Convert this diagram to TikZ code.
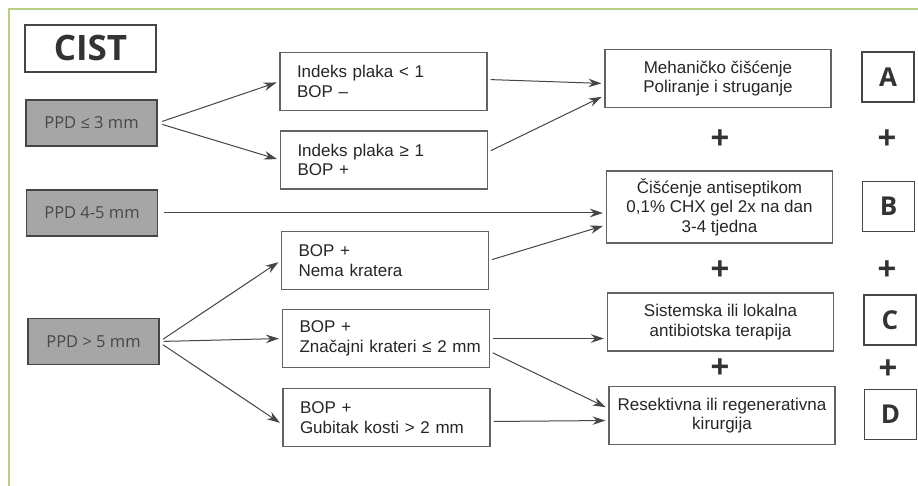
\documentclass[tikz,border=0pt]{standalone}
\usepackage{fontspec}
\setmainfont{Liberation Sans}
\newfontfamily\opensans{Open Sans}
\usetikzlibrary{arrows.meta,calc}
\definecolor{ppdgray}{RGB}{166,166,166}
\definecolor{framegreen}{RGB}{184,206,128}
\definecolor{inkgray}{RGB}{70,70,70}

\begin{document}
\begin{tikzpicture}[x=1pt,y=-1pt,>={Stealth[length=13pt,width=8.5pt]},
    box/.style={draw=inkgray!85,line width=1.1pt,inner sep=0pt,font=\fontsize{17}{19.5}\selectfont,text=black!85},
    ppd/.style={draw=inkgray,fill=ppdgray,line width=1.1pt,minimum width=131pt,minimum height=46pt,inner sep=0pt,font=\opensans\fontsize{16.5}{19}\selectfont,text=black!72},
    cond/.style={box,text width=173pt,inner xsep=17pt,minimum height=58pt,align=left},
    therapy/.style={box,minimum width=226pt,minimum height=58pt,align=center},
    letter/.style={draw=inkgray,line width=1.1pt,minimum width=52pt,minimum height=50pt,inner sep=0pt,font=\opensans\bfseries\fontsize{26}{30}\selectfont,text=black!80},
    plus/.style={font=\bfseries\fontsize{32}{32}\selectfont,text=black!80,inner sep=0pt},
    arr/.style={->,draw=inkgray,line width=1pt,shorten >=3pt}]
    \useasboundingbox (0,0) rectangle (918,486);
    \fill[white] (0,0) rectangle (918,486);
    \draw[framegreen,line width=1.5pt] (9,486)--(9,9)--(918,9);

    \node[draw=inkgray,line width=1.1pt,minimum width=131pt,minimum height=47pt,inner sep=0pt,font=\opensans\bfseries\fontsize{35}{40}\selectfont,text=black!80] (cist) at (90.5,48.5) {CIST};
    \node[ppd] (ppd1) at (91.5,123) {PPD ≤ 3 mm};
    \node[ppd] (ppd2) at (92,213) {PPD 4-5 mm};
    \node[ppd] (ppd3) at (93.5,341.5) {PPD > 5 mm};

    \node[cond] (ip1) at (383.5,81.5) {Indeks plaka < 1\\BOP –};
    \node[cond] (ip2) at (384,160) {Indeks plaka ≥ 1\\BOP +};
    \node[cond] (nk) at (385,260.5) {BOP +\\Nema kratera};
    \node[cond] (zk) at (386,338.5) {BOP +\\\mbox{Značajni krateri ≤ 2 mm}};
    \node[cond] (gk) at (386.5,417.5) {BOP +\\\mbox{Gubitak kosti > 2 mm}};

    \node[therapy] (meh) at (718,78.5) {Mehaničko čišćenje\\Poliranje i struganje};
    \node[therapy,minimum height=72pt] (anti) at (719.5,207) {Čišćenje antiseptikom\\0,1\% CHX gel 2x na dan\\3-4 tjedna};
    \node[therapy] (sys) at (720.5,322) {Sistemska ili lokalna\\antibiotska terapija};
    \node[therapy] (res) at (722,415.5) {Resektivna ili regenerativna\\kirurgija};

    \node[letter] (la) at (888,77) {A};
    \node[letter] (lb) at (888.5,206.5) {B};
    \node[letter] (lc) at (890,320) {C};
    \node[letter] (ld) at (890.5,414.5) {D};

    \node[plus] (p1) at (720,139) {+};
    \node[plus] (p2) at (720,270) {+};
    \node[plus] (p3) at (720,368) {+};
    \node[plus] (q1) at (887,139) {+};
    \node[plus] (q2) at (887,270) {+};
    \node[plus] (q3) at (888,369) {+};

    \draw[arr,shorten <=5pt] (ppd1.east)--(ip1.west);
    \draw[arr,shorten <=5pt] (ppd1.east)--(ip2.west);
    \draw[arr,shorten <=6pt] (ppd2.east)--(ppd2.east -| anti.west);
    \draw[arr,shorten <=4pt] (ppd3.east)--(nk.west);
    \draw[arr,shorten <=4pt] (ppd3.east)--(zk.west);
    \draw[arr,shorten <=4pt] ($(ppd3.east)+(0,1)$)--($(gk.west)+(0,7)$);

    \draw[arr,shorten <=3pt] ($(ip1.east)+(0,-2)$)--($(meh.west)+(0,5)$);
    \draw[arr,shorten <=3pt] ($(ip2.east)+(0,-8)$)--($(meh.west)+(0,17)$);
    \draw[arr,shorten <=3pt] (nk.east)--($(anti.west)+(0,18)$);
    \draw[arr,shorten <=3pt] (zk.east)--(zk.east -| sys.west);
    \draw[arr,shorten <=3pt] ($(zk.east)+(0,13)$)--($(res.west)+(0,-7)$);
    \draw[arr,shorten <=3pt] ($(gk.east)+(0,4)$)--($(res.west)+(0,5)$);
\end{tikzpicture}
\end{document}
